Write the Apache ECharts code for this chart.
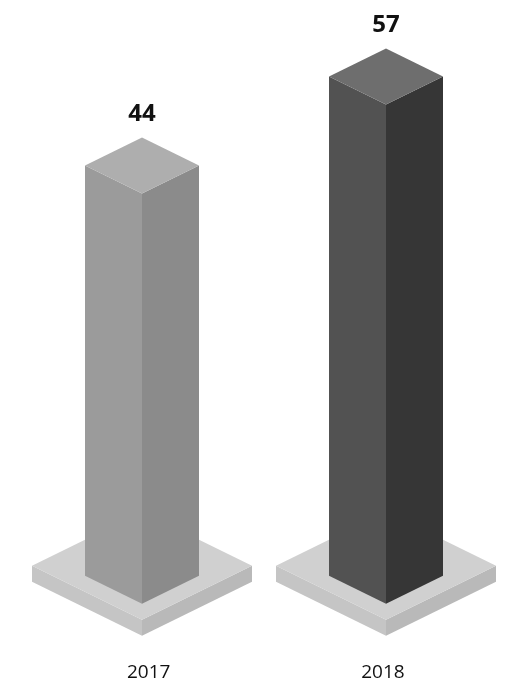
<!DOCTYPE html>
<html>
<head>
<meta charset="utf-8">
<script src="https://cdn.jsdelivr.net/npm/echarts@6/dist/echarts.min.js"></script>
<style>
html,body{margin:0;padding:0;background:#fff;}
#main{width:509px;height:686px;}
</style>
</head>
<body>
<div id="main"></div>
<script>
var categories = ['2017', '2018'];
var values = [44, 57];
var BASE_VALUE = -15.8;

var palettes = [
  { top: '#aeaeae', left: '#9b9b9b', right: '#8b8b8b' },
  { top: '#6e6e6e', left: '#525252', right: '#363636' }
];
var plate = { top: '#d0d0d0', left: '#c5c5c5', right: '#b9b9b9' };

var chart = echarts.init(document.getElementById('main'), null, { renderer: 'canvas' });

function poly(points, color) {
  return { type: 'polygon', shape: { points: points }, style: { fill: color, stroke: null } };
}

function renderItem(params, api) {
  var idx = api.value(0);
  var val = api.value(1);
  var top = api.coord([idx, val]);
  var bot = api.coord([idx, BASE_VALUE]);
  var cx = top[0];
  var yt = top[1];
  var yb = bot[1];
  var hw = 57, dh = 28;
  var phw = 110, pdh = 54, pGap = 16, pTh = 16;
  var pal = palettes[params.dataIndex % palettes.length];
  var py = yb + pGap;
  var children = [
    poly([[cx - phw, py - pdh], [cx, py], [cx, py + pTh], [cx - phw, py - pdh + pTh]], plate.left),
    poly([[cx + phw, py - pdh], [cx, py], [cx, py + pTh], [cx + phw, py - pdh + pTh]], plate.right),
    poly([[cx - phw, py - pdh], [cx, py - 2 * pdh], [cx + phw, py - pdh], [cx, py]], plate.top),
    poly([[cx - hw, yt - dh], [cx, yt], [cx, yb], [cx - hw, yb - dh]], pal.left),
    poly([[cx + hw, yt - dh], [cx, yt], [cx, yb], [cx + hw, yb - dh]], pal.right),
    poly([[cx - hw, yt - dh], [cx, yt - 2 * dh], [cx + hw, yt - dh], [cx, yt]], pal.top),
    {
      type: 'text',
      style: {
        text: String(val),
        x: cx,
        y: yt - 2 * dh - 23.5,
        fill: '#111',
        font: 'bold 24px "Open Sans", "Noto Sans", sans-serif',
        align: 'center',
        verticalAlign: 'middle'
      }
    }
  ];
  return { type: 'group', children: children };
}

var option = {
  animation: false,
  backgroundColor: '#ffffff',
  grid: [
    { left: 20, right: 1, top: 83.8, bottom: 53.4 },
    { left: 31.5, width: 468.6, top: 83.8, bottom: 53.4 }
  ],
  xAxis: [
    {
      type: 'category',
      gridIndex: 0,
      data: categories,
      axisLine: { show: false },
      axisTick: { show: false },
      axisLabel: { show: false }
    },
    {
      type: 'category',
      gridIndex: 1,
      data: categories,
      axisLine: { show: false },
      axisTick: { show: false },
      axisLabel: {
        margin: 30,
        fontSize: 19,
        color: '#111',
        fontFamily: '"Open Sans", "Noto Sans", sans-serif'
      }
    }
  ],
  yAxis: [
    { type: 'value', gridIndex: 0, min: -20, max: 60, interval: 20, show: false },
    { type: 'value', gridIndex: 1, min: -20, max: 60, interval: 20, show: false }
  ],
  series: [{
    type: 'custom',
    renderItem: renderItem,
    clip: false,
    xAxisIndex: 0,
    yAxisIndex: 0,
    data: values.map(function (v, i) { return [i, v]; }),
    encode: { x: 0, y: 1 }
  }]
};
chart.setOption(option);
</script>
</body>
</html>
